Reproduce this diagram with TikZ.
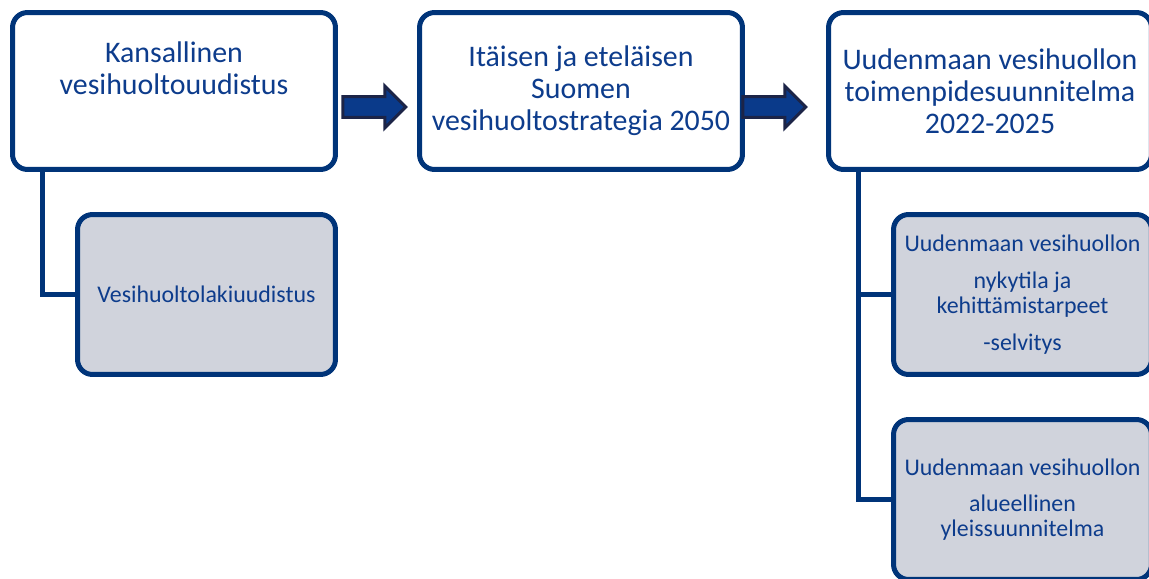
\documentclass[tikz,border=0pt]{standalone}
\usepackage{fontspec}
\setmainfont{Carlito}
\usetikzlibrary{shapes.arrows,positioning}
\definecolor{boxblue}{HTML}{003479}
\definecolor{textblue}{HTML}{0D3C8C}
\definecolor{subgray}{HTML}{D0D3DC}
\definecolor{arrowdark}{HTML}{1C2447}
\definecolor{arrowblue}{HTML}{0A3A8A}
\tikzset{
	topbox/.style={draw=boxblue, line width=0.1cm, rounded corners=0.3cm, fill=white,
		minimum width=6.46cm, minimum height=3.14cm, align=center, text=textblue,
		font=\fontsize{17}{18.2}\selectfont},
	subbox/.style={draw=boxblue, line width=0.1cm, rounded corners=0.3cm, fill=subgray,
		minimum width=5.16cm, minimum height=3.2cm, align=center, text=textblue,
		font=\fontsize{13.6}{14.2}\selectfont},
	toptext/.style={align=center, text=textblue, font=\fontsize{17}{18.2}\selectfont},
	tree/.style={draw=boxblue, line width=0.1cm},
	blockarrow/.style={single arrow, draw=arrowdark, fill=arrowblue, line width=0.06cm,
		single arrow head extend=0.21cm, minimum height=1.26cm, inner sep=0pt}
}

\begin{document}
\begin{tikzpicture}[x=0.02cm, y=-0.02cm]

	\clip (0,0) rectangle (1149,578);

	% top row
	\node[topbox] (top1) at (174,91) {};
	\node[toptext] (top1txt) at (174,68.5) {Kansallinen\\vesihuoltouudistus};
	\node[topbox] (top2) at (581,91) {Itäisen ja eteläisen\\Suomen\\vesihuoltostrategia 2050};
	\node[topbox] (top3) at (990,91) {Uudenmaan vesihuollon\\toimenpidesuunnitelma\\2022-2025};

	\node[blockarrow] (arr1) at (369,107) {\rule{0pt}{0.36cm}};
	\node[blockarrow] (arr2) at (769,107) {\rule{0pt}{0.36cm}};

	% sub boxes
	\node[subbox] (sub1) at (206.5,294.5) {Vesihuoltolakiuudistus};
	\node[subbox] (subA) at (1022.5,294.5) {Uudenmaan vesihuollon\\[0.24cm]nykytila ja\\kehittämistarpeet\\[0.24cm]-selvitys};
	\node[subbox] (subB) at (1022.5,499.5) {Uudenmaan vesihuollon\\[0.22cm]alueellinen\\yleissuunnitelma};

	\coordinate (t1) at (42,0);
	\coordinate (t3) at (858,0);
	\draw[tree] (top1.south -| t1) |- (sub1.west);
	\draw[tree] (top3.south -| t3) |- (subA.west);
	\draw[tree] (top3.south -| t3) |- (subB.west);

\end{tikzpicture}
\end{document}
